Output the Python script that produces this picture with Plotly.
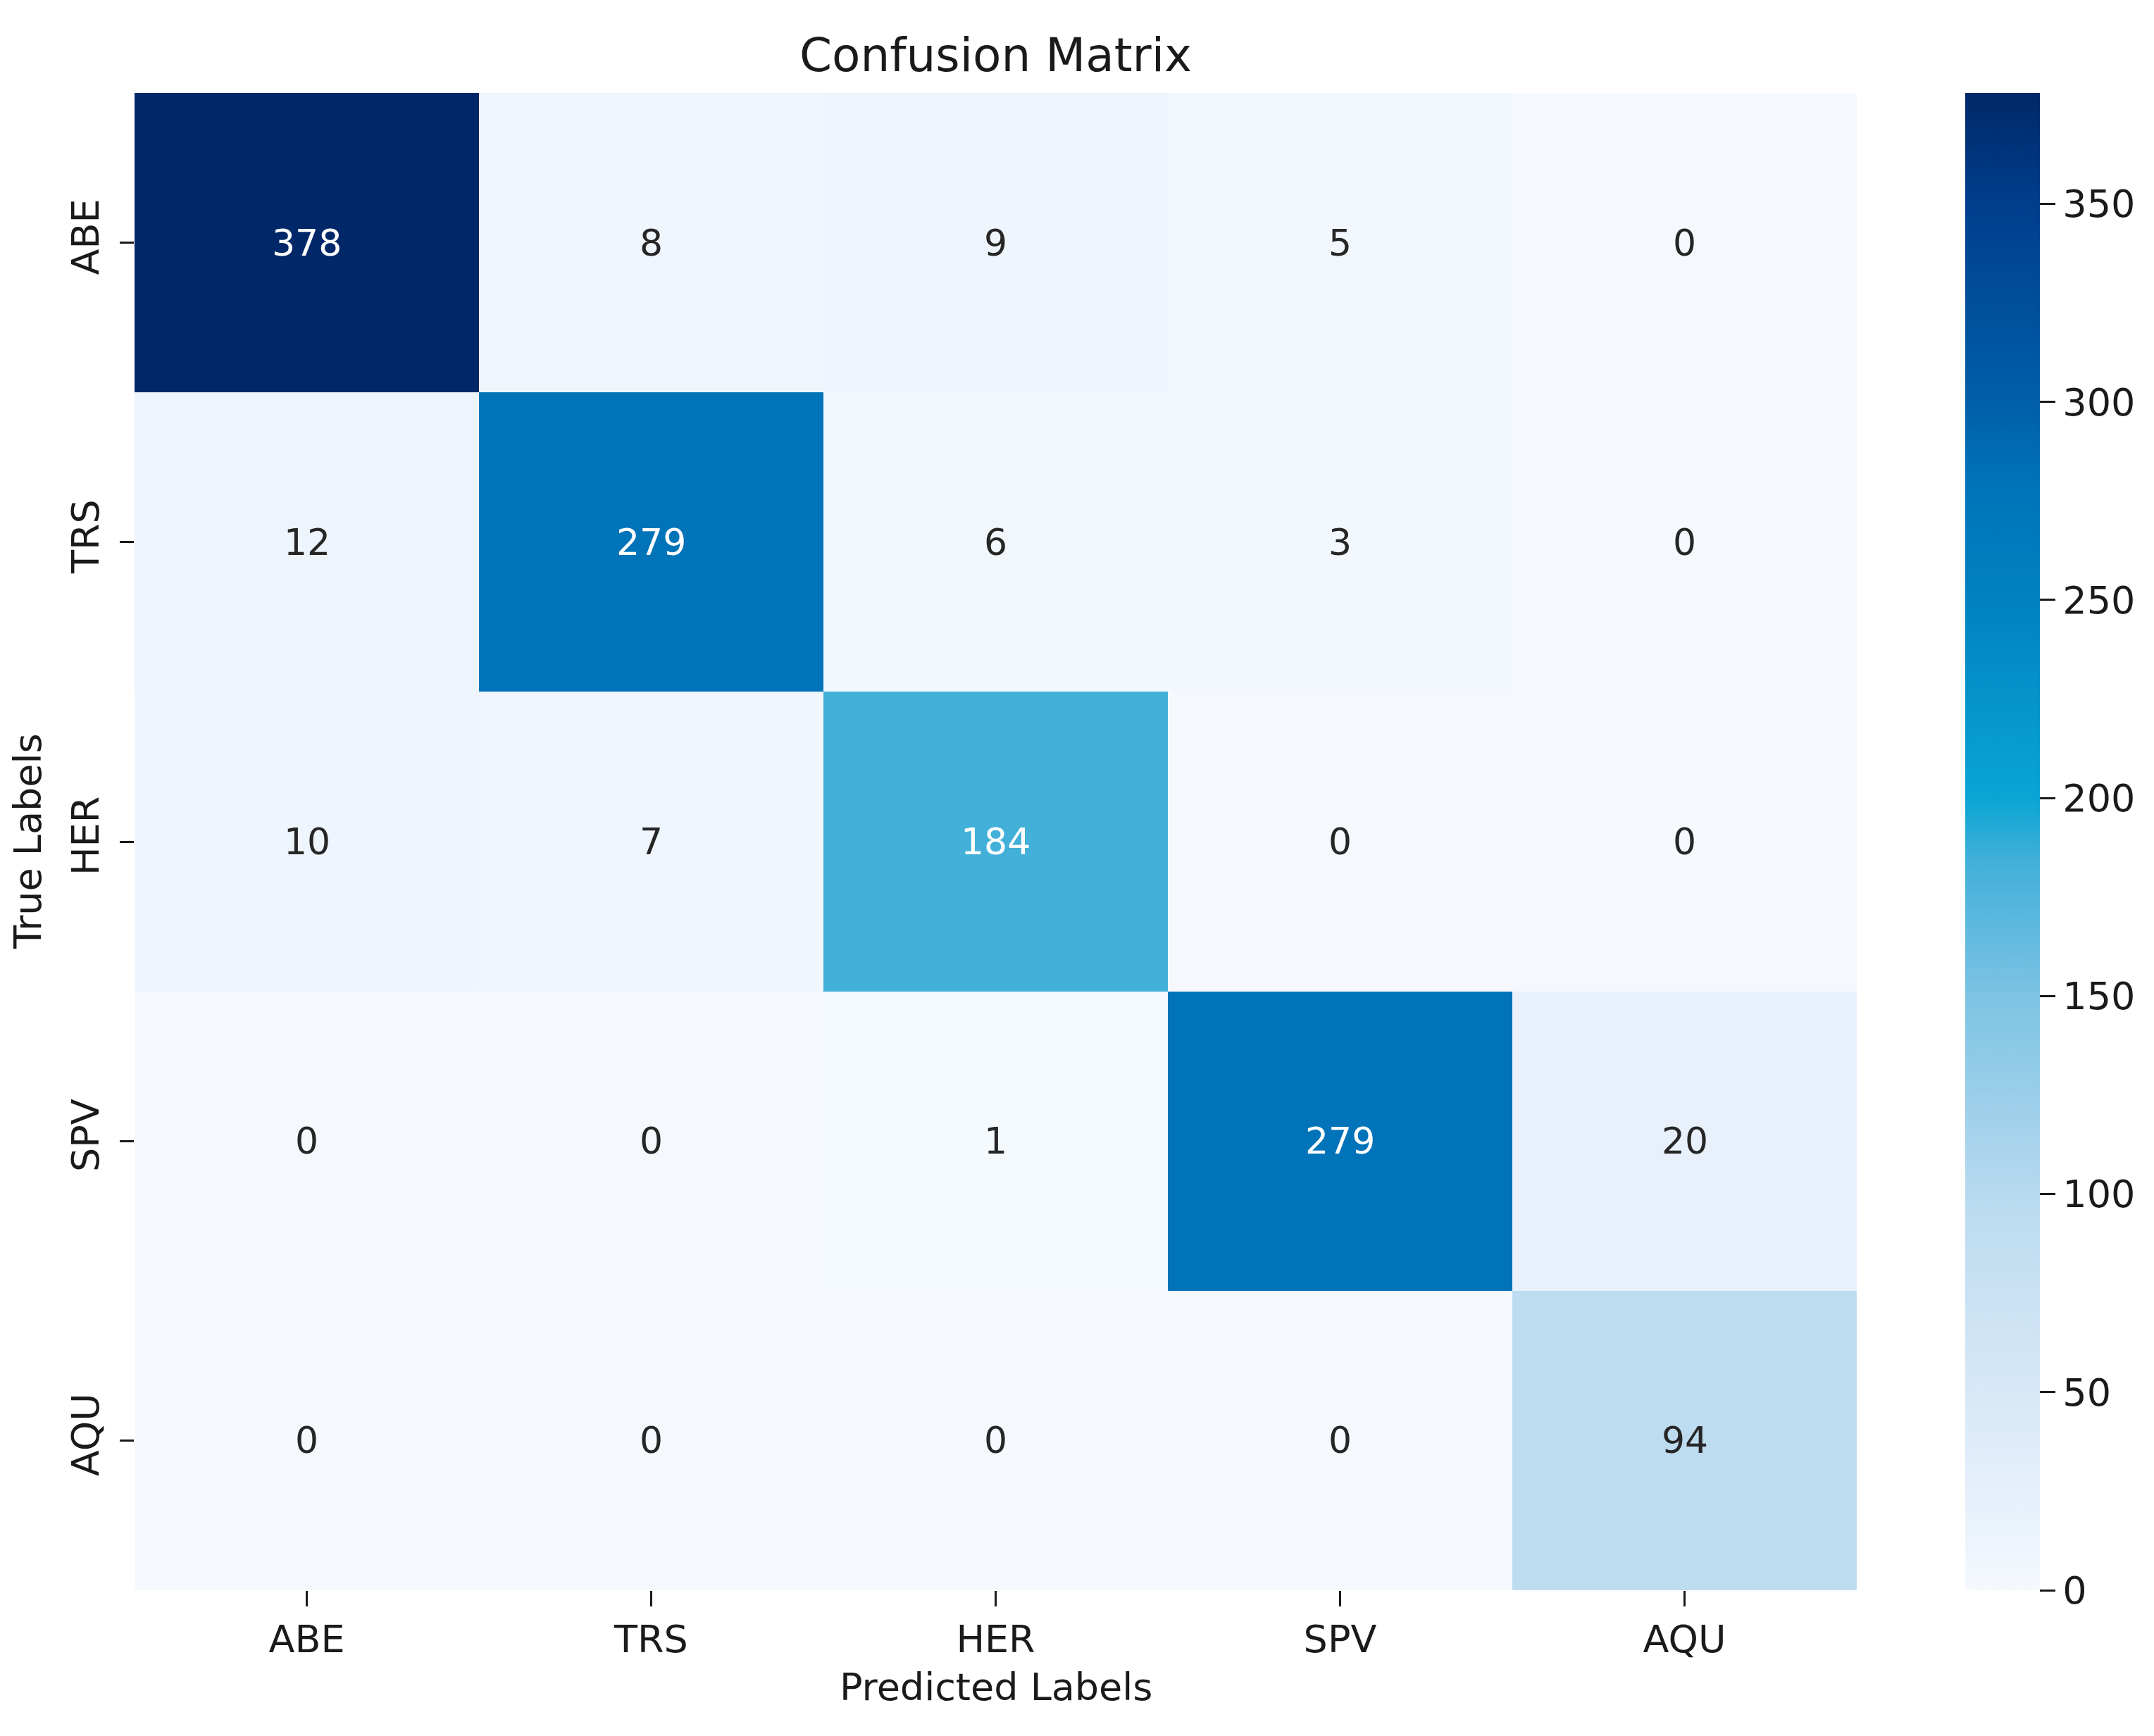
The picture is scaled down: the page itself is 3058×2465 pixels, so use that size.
import plotly.graph_objects as go

labels = ["ABE", "TRS", "HER", "SPV", "AQU"]
matrix = [
    [378, 8, 9, 5, 0],
    [12, 279, 6, 3, 0],
    [10, 7, 184, 0, 0],
    [0, 0, 1, 279, 20],
    [0, 0, 0, 0, 94],
]
cbar_ticks = [0, 50, 100, 150, 200, 250, 300, 350]

# colour stops sampled from the reference colour bar (value, rgb)
stop_values = [0, 20, 50, 94, 150, 184, 200, 250, 279, 300, 350, 378]
stop_colors = [
    "rgb(245,249,254)", "rgb(232,241,251)", "rgb(215,232,247)",
    "rgb(190,220,240)", "rgb(125,195,228)", "rgb(66,176,217)",
    "rgb(10,165,212)", "rgb(0,130,192)", "rgb(0,115,185)",
    "rgb(0,95,168)", "rgb(0,62,140)", "rgb(0,40,104)",
]
zmax = max(max(r) for r in matrix)
colorscale = [[v / zmax, c] for v, c in zip(stop_values, stop_colors)]

OFF = 8  # browser body margin
W, H = 3058 - OFF, 2465 - OFF
L, T = 191 - OFF, 132 - OFF
R = W - (2636 - OFF)
B = H - (2258 - OFF)
plot_w = W - L - R
FONT = "DejaVu Sans"
TXT = "#1a1a1a"

fig = go.Figure(go.Heatmap(
    z=matrix, x=labels, y=labels,
    colorscale=colorscale, zmin=0, zmax=zmax,
    colorbar=dict(
        x=(2790 - OFF - L) / plot_w, xanchor="left", xpad=0, ypad=0,
        y=0.5, yanchor="middle", len=1, lenmode="fraction",
        thickness=106, thicknessmode="pixels",
        outlinewidth=0,
        tickvals=cbar_ticks, ticks="outside", ticklen=22, tickwidth=3,
        tickcolor=TXT,
        tickfont=dict(family=FONT, size=54, color=TXT),
    ),
    hoverinfo="skip",
))

annotations = []
for i, row in enumerate(matrix):
    for j, v in enumerate(row):
        col = "white" if v / zmax > 0.45 else "#262626"
        annotations.append(dict(
            x=labels[j], y=labels[i], xref="x", yref="y",
            text=str(v), showarrow=False,
            font=dict(family=FONT, size=52, color=col),
        ))

annotations.append(dict(
    x=0.5, y=1, xref="paper", yref="paper", yshift=54, yanchor="middle",
    text="Confusion Matrix", showarrow=False,
    font=dict(family=FONT, size=66, color=TXT),
))
annotations.append(dict(
    x=0.5, y=0, xref="paper", yref="paper", yshift=-137, yanchor="middle",
    text="Predicted Labels", showarrow=False,
    font=dict(family=FONT, size=54, color=TXT),
))
annotations.append(dict(
    x=0, y=0.5, xref="paper", yref="paper", xshift=-152, xanchor="center",
    text="True Labels", showarrow=False, textangle=-90,
    font=dict(family=FONT, size=54, color=TXT),
))

fig.update_layout(
    width=W, height=H,
    margin=dict(l=L, r=R, t=T, b=B),
    paper_bgcolor="white", plot_bgcolor="white",
    font=dict(family=FONT, color=TXT),
    annotations=annotations,
    xaxis=dict(
        type="category", showgrid=False, zeroline=False, showline=False,
        ticks="outside", ticklen=22, tickwidth=3, tickcolor=TXT,
        tickfont=dict(family=FONT, size=54, color=TXT),
    ),
    yaxis=dict(
        type="category", autorange="reversed", showgrid=False, zeroline=False,
        showline=False, ticks="outside", ticklen=20, tickwidth=3, tickcolor=TXT,
        tickangle=-90, ticklabelstandoff=8,
        tickfont=dict(family=FONT, size=54, color=TXT),
    ),
)

fig.write_html("out.html")
